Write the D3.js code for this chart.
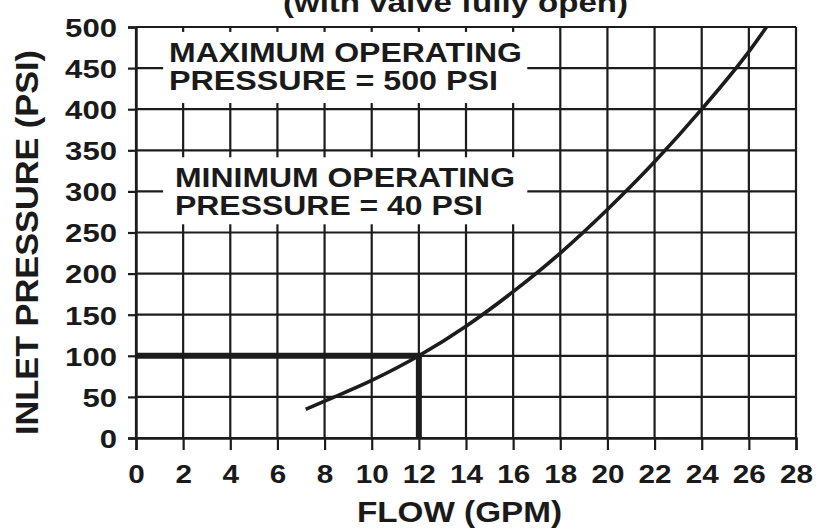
<!DOCTYPE html>
<html>
<head>
<meta charset="utf-8">
<script src="https://cdn.jsdelivr.net/npm/d3@7"></script>
<style>
  html, body { margin: 0; padding: 0; background: #fff; }
  svg { display: block; }
  text { font-family: "Liberation Sans", Arial, Helvetica, sans-serif; font-weight: bold; fill: #1a1a1a; }
</style>
</head>
<body>
<svg id="chart" width="817" height="529"></svg>
<script>
// ---- Data ----
const flowTicks = [0, 2, 4, 6, 8, 10, 12, 14, 16, 18, 20, 22, 24, 26, 28];
const pressureTicks = [0, 50, 100, 150, 200, 250, 300, 350, 400, 450, 500];
const curveFlow = [7.2, 8.1, 10, 12, 14, 16, 18, 20, 22, 24, 26, 26.75];
const curvePressure = [35, 46, 70, 100, 136, 178, 225, 278, 336, 400, 470, 500];
const opFlow = 12;
const opPressure = 100;
const titleText = "(with valve fully open)";
const xLabel = "FLOW (GPM)";
const yLabel = "INLET PRESSURE (PSI)";
const maxNote = ["MAXIMUM OPERATING", "PRESSURE = 500 PSI"];
const minNote = ["MINIMUM OPERATING", "PRESSURE = 40 PSI"];

// ---- Layout ----
const svg = d3.select("#chart");
const ink = "#1c1c1c";
const x = d3.scaleLinear().domain([0, 28]).range([136, 796]);
const y = d3.scaleLinear().domain([0, 500]).range([438, 27]);

// Grid
const grid = svg.append("g");
grid.selectAll("line.v").data(flowTicks).join("line")
  .attr("x1", d => x(d)).attr("x2", d => x(d))
  .attr("y1", y(500)).attr("y2", y(0))
  .attr("stroke", ink).attr("stroke-width", 2.2);
grid.selectAll("line.h").data(pressureTicks).join("line")
  .attr("x1", x(0)).attr("x2", x(28))
  .attr("y1", d => y(d)).attr("y2", d => y(d))
  .attr("stroke", ink).attr("stroke-width", 2.2);

// Axes (ticks + labels)
const yAxis = svg.append("g").attr("transform", `translate(${x(0)},0)`)
  .call(d3.axisLeft(y).tickValues(pressureTicks).tickSize(8).tickPadding(11).tickFormat(d3.format("d")));
yAxis.select(".domain").attr("stroke", ink).attr("stroke-width", 2.4);
yAxis.selectAll(".tick line").attr("stroke", ink).attr("stroke-width", 2.2);
yAxis.selectAll(".tick text")
  .style("font-size", "26px").attr("fill", ink)
  .attr("textLength", d => String(d).length * 17.3).attr("lengthAdjust", "spacingAndGlyphs")
  .attr("dy", "0.36em");

const xAxis = svg.append("g").attr("transform", `translate(0,${y(0)})`)
  .call(d3.axisBottom(x).tickValues(flowTicks).tickSize(12).tickPadding(15).tickFormat(d3.format("d")));
xAxis.select(".domain").attr("stroke", ink).attr("stroke-width", 2.4);
xAxis.selectAll(".tick line").attr("stroke", ink).attr("stroke-width", 2.2);
xAxis.selectAll(".tick text")
  .style("font-size", "26px").attr("fill", ink)
  .attr("textLength", d => String(d).length * 16.5).attr("lengthAdjust", "spacingAndGlyphs");

// Note boxes (white backgrounds over grid)
function note(lines, x0, x1, yTop, yBot, tx, baselines, lengths) {
  svg.append("rect")
    .attr("x", x0).attr("y", yTop).attr("width", x1 - x0).attr("height", yBot - yTop)
    .attr("fill", "#fff");
  lines.forEach((t, i) => {
    svg.append("text")
      .attr("x", tx).attr("y", baselines[i])
      .attr("textLength", lengths[i]).attr("lengthAdjust", "spacingAndGlyphs")
      .style("font-size", "27px").attr("fill", ink)
      .text(t);
  });
}
note(maxNote, x(1.15), x(16.6), y(494), y(407.5), 169, [62, 90], [353, 329]);
note(minNote, x(1.15), x(16.6), y(341.5), y(260), 175, [187, 215], [340, 308]);

// Operating point reference lines
svg.append("line")
  .attr("x1", x(0)).attr("x2", x(opFlow) + 3)
  .attr("y1", y(opPressure)).attr("y2", y(opPressure))
  .attr("stroke", ink).attr("stroke-width", 6);
svg.append("line")
  .attr("x1", x(opFlow)).attr("x2", x(opFlow))
  .attr("y1", y(opPressure)).attr("y2", y(0))
  .attr("stroke", ink).attr("stroke-width", 6);

// Curve
const pts = curveFlow.map((f, i) => [f, curvePressure[i]]);
svg.append("path")
  .datum(pts)
  .attr("d", d3.line().x(d => x(d[0])).y(d => y(d[1])).curve(d3.curveMonotoneX))
  .attr("fill", "none").attr("stroke", ink).attr("stroke-width", 3.6).attr("stroke-linecap", "butt");

// Titles
svg.append("text").attr("x", 283).attr("y", 12)
  .attr("textLength", 345).attr("lengthAdjust", "spacingAndGlyphs")
  .style("font-size", "28px").attr("fill", ink).text(titleText);
svg.append("text").attr("x", 357).attr("y", 522)
  .attr("textLength", 205).attr("lengthAdjust", "spacingAndGlyphs")
  .style("font-size", "30px").attr("fill", ink).text(xLabel);
svg.append("text")
  .attr("transform", `translate(38,435) rotate(-90)`)
  .attr("x", 0).attr("y", 0)
  .attr("textLength", 385).attr("lengthAdjust", "spacingAndGlyphs")
  .style("font-size", "31px").attr("fill", ink).text(yLabel);
</script>
</body>
</html>
